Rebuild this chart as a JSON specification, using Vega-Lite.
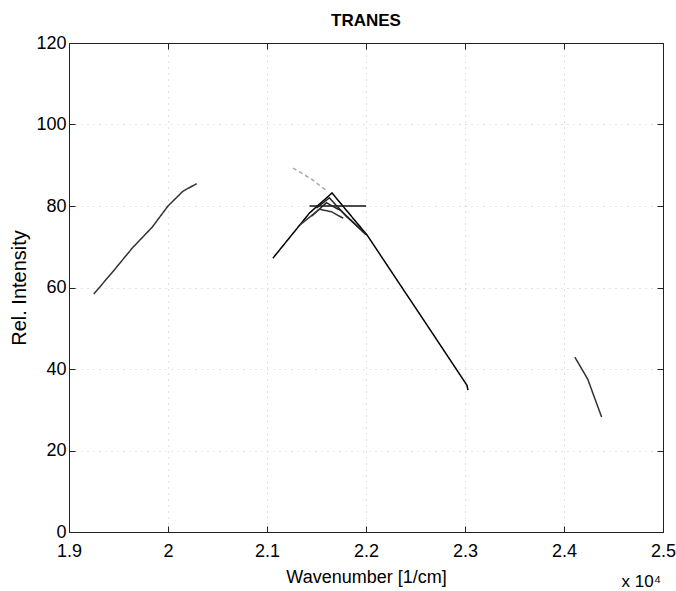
{
  "$schema": "https://vega.github.io/schema/vega-lite/v6.json",
  "width": 594,
  "height": 489,
  "autosize": {"type": "none"},
  "padding": {"left": 69, "top": 43, "right": 13, "bottom": 59},
  "background": "white",
  "title": {"text": "TRANES", "font": "Liberation Sans", "fontSize": 17, "fontWeight": "bold", "color": "#000", "offset": 4},
  "config": {
    "view": {"stroke": "#222", "strokeWidth": 1},
    "axis": {
      "labelFont": "Liberation Sans",
      "labelFontSize": 18,
      "labelColor": "#000",
      "labelFlush": false,
      "titleFont": "Liberation Sans",
      "titleFontWeight": "normal",
      "titleColor": "#000",
      "domainColor": "#222",
      "tickColor": "#222",
      "tickSize": -6,
      "gridColor": "#999",
      "gridDash": [1, 5],
      "gridOpacity": 0.55
    }
  },
  "datasets": {
    "lines": [
      {"series": "left", "wavenumber": 19250, "intensity": 58.4},
      {"series": "left", "wavenumber": 19440, "intensity": 63.8},
      {"series": "left", "wavenumber": 19640, "intensity": 69.7},
      {"series": "left", "wavenumber": 19840, "intensity": 74.8},
      {"series": "left", "wavenumber": 20000, "intensity": 80.0},
      {"series": "left", "wavenumber": 20150, "intensity": 83.6},
      {"series": "left", "wavenumber": 20290, "intensity": 85.5},
      {"series": "main", "wavenumber": 21060, "intensity": 67.2},
      {"series": "main", "wavenumber": 21430, "intensity": 78.3},
      {"series": "main", "wavenumber": 21657, "intensity": 83.2},
      {"series": "main", "wavenumber": 21800, "intensity": 79.0},
      {"series": "main", "wavenumber": 22010, "intensity": 72.9},
      {"series": "main", "wavenumber": 22717, "intensity": 47.1},
      {"series": "main", "wavenumber": 23020, "intensity": 36.0},
      {"series": "main", "wavenumber": 23030, "intensity": 34.8},
      {"series": "flat", "wavenumber": 21430, "intensity": 80.0},
      {"series": "flat", "wavenumber": 22000, "intensity": 80.0},
      {"series": "fanA", "wavenumber": 21450, "intensity": 77.5},
      {"series": "fanA", "wavenumber": 21600, "intensity": 80.8},
      {"series": "fanA", "wavenumber": 21750, "intensity": 78.8},
      {"series": "fanA", "wavenumber": 22000, "intensity": 73.0},
      {"series": "fanB", "wavenumber": 21500, "intensity": 79.5},
      {"series": "fanB", "wavenumber": 21630, "intensity": 82.0},
      {"series": "fanB", "wavenumber": 21800, "intensity": 77.5},
      {"series": "fanB", "wavenumber": 22000, "intensity": 73.0},
      {"series": "droop", "wavenumber": 21330, "intensity": 75.3},
      {"series": "droop", "wavenumber": 21530, "intensity": 79.2},
      {"series": "droop", "wavenumber": 21650, "intensity": 78.6},
      {"series": "droop", "wavenumber": 21770, "intensity": 77.0},
      {"series": "upper", "wavenumber": 21263, "intensity": 89.3},
      {"series": "upper", "wavenumber": 21450, "intensity": 86.6},
      {"series": "upper", "wavenumber": 21600, "intensity": 83.8},
      {"series": "right", "wavenumber": 24110, "intensity": 42.9},
      {"series": "right", "wavenumber": 24240, "intensity": 37.5},
      {"series": "right", "wavenumber": 24380, "intensity": 28.2}
    ],
    "note": [
      {"label": "x 10⁴", "wavenumber": 25000, "intensity": 0}
    ]
  },
  "layer": [
    {
      "data": {"name": "lines"},
      "mark": {"type": "line", "strokeWidth": 1.5},
      "encoding": {
        "x": {
          "field": "wavenumber", "type": "quantitative",
          "scale": {"domain": [19000, 25000], "nice": false, "zero": false},
          "axis": {
            "orient": "bottom", "title": "Wavenumber [1/cm]",
            "values": [19000, 20000, 21000, 22000, 23000, 24000, 25000],
            "labelExpr": "format(datum.value / 10000, '~g')",
            "labelPadding": 16, "titlePadding": 8, "titleFontSize": 18
          }
        },
        "y": {
          "field": "intensity", "type": "quantitative",
          "scale": {"domain": [0, 120], "nice": false},
          "axis": {
            "orient": "left", "title": "Rel. Intensity",
            "values": [0, 20, 40, 60, 80, 100, 120],
            "labelPadding": 9, "titlePadding": 6, "titleFontSize": 20
          }
        },
        "color": {
          "field": "series", "type": "nominal",
          "scale": {
            "domain": ["left", "main", "flat", "fanA", "fanB", "droop", "upper", "right"],
            "range": ["#333", "#000", "#111", "#222", "#222", "#333", "#aaa", "#333"]
          },
          "legend": null
        },
        "strokeDash": {
          "field": "series", "type": "nominal",
          "scale": {
            "domain": ["left", "main", "flat", "fanA", "fanB", "droop", "upper", "right"],
            "range": [[1, 0], [1, 0], [1, 0], [1, 0], [1, 0], [1, 0], [4, 3], [1, 0]]
          },
          "legend": null
        }
      }
    },
    {
      "data": {"name": "lines"},
      "mark": {"type": "point", "opacity": 0},
      "encoding": {
        "x": {
          "field": "wavenumber", "type": "quantitative",
          "axis": {"orient": "top", "title": null, "labels": false, "grid": false,
                   "values": [19000, 20000, 21000, 22000, 23000, 24000, 25000]}
        },
        "y": {
          "field": "intensity", "type": "quantitative",
          "axis": {"orient": "right", "title": null, "labels": false, "grid": false,
                   "values": [0, 20, 40, 60, 80, 100, 120]}
        }
      }
    },
    {
      "data": {"name": "note"},
      "mark": {"type": "text", "align": "right", "baseline": "middle", "dx": -2, "dy": 50, "font": "Liberation Sans", "fontSize": 17, "color": "#000"},
      "encoding": {
        "x": {"field": "wavenumber", "type": "quantitative", "axis": null},
        "y": {"field": "intensity", "type": "quantitative", "axis": null},
        "text": {"field": "label"}
      }
    }
  ],
  "resolve": {"axis": {"x": "independent", "y": "independent"}}
}
